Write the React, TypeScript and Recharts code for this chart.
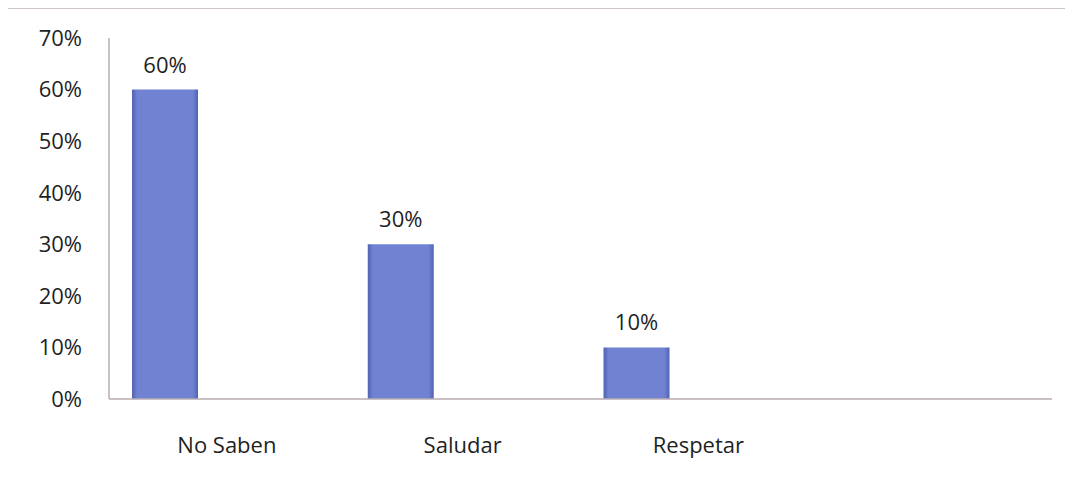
import React from "react";
import { BarChart, Bar, XAxis, YAxis, LabelList } from "recharts";

const categories = ["No Saben", "Saludar", "Respetar", ""];
const percentages: (number | null)[] = [60, 30, 10, null];
const spacer: (number | null)[] = [null, null, null, null];
const yTicks = [0, 10, 20, 30, 40, 50, 60, 70];

const data = categories.map((name, i) => ({
  name,
  value: percentages[i],
  spacer: spacer[i],
}));

const FONT = "'Open Sans', 'Noto Sans', sans-serif";
const TEXT = "#1f1f1f";
const AXIS = "#b9adb4";

export default function App() {
  return (
    <div style={{ position: "relative", width: 1065, height: 475 }}>
      <div
        style={{
          position: "absolute",
          left: -1,
          top: 0,
          width: 1070,
          height: 480,
          borderTop: "1px solid #cfc3ca",
          borderLeft: "1px solid #cfc3ca",
          boxSizing: "border-box",
        }}
      />
      <BarChart
        width={1065}
        height={475}
        data={data}
        margin={{ top: 30, right: 21, bottom: 0, left: 0 }}
        barGap={0}
        style={{ fontFamily: FONT }}
      >
        <defs>
          <linearGradient id="barGrad" x1="0" y1="0" x2="1" y2="0">
            <stop offset="0%" stopColor="#5262b4" />
            <stop offset="8%" stopColor="#7282d2" />
            <stop offset="92%" stopColor="#7282d2" />
            <stop offset="100%" stopColor="#5262b4" />
          </linearGradient>
        </defs>
        <XAxis
          dataKey="name"
          axisLine={{ stroke: AXIS, strokeWidth: 1.5 }}
          tickLine={false}
          tickSize={0}
          tickMargin={38}
          height={84}
          interval={0}
          tick={{ fill: TEXT, fontSize: 22, fontFamily: FONT }}
        />
        <YAxis
          width={101}
          domain={[0, 70]}
          ticks={yTicks}
          interval={0}
          tickFormatter={(v: number) => `${v}%`}
          axisLine={{ stroke: AXIS, strokeWidth: 1.5 }}
          tickLine={false}
          tickSize={0}
          tickMargin={27}
          tick={{ fill: TEXT, fontSize: 22, fontFamily: FONT }}
        />
        <Bar
          dataKey="value"
          barSize={66}
          fill="url(#barGrad)"
          isAnimationActive={false}
        >
          <LabelList
            dataKey="value"
            position="top"
            offset={17}
            formatter={(v: any) => (v == null ? "" : `${v}%`)}
            style={{ fill: TEXT, fontSize: 22, fontFamily: FONT }}
          />
        </Bar>
        <Bar
          dataKey="spacer"
          barSize={124}
          fill="none"
          isAnimationActive={false}
        />
      </BarChart>
    </div>
  );
}
